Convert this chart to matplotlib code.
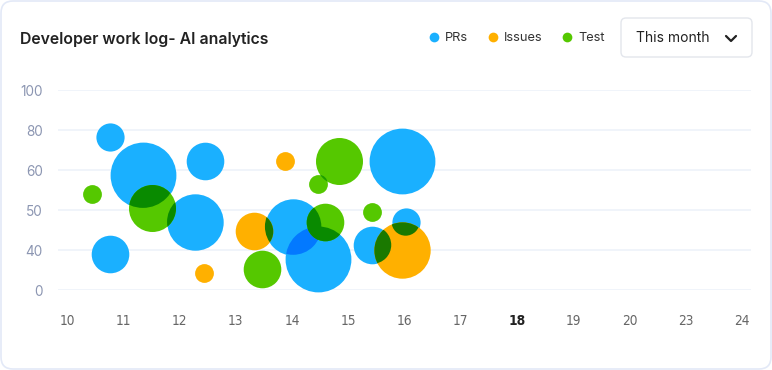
import matplotlib
matplotlib.use("Agg")
import matplotlib.pyplot as plt
import numpy as np
from matplotlib.patches import FancyBboxPatch
from matplotlib.lines import Line2D
from matplotlib.path import Path
from matplotlib import transforms

plt.rcParams['font.family'] = ['Inter', 'DejaVu Sans']

# data
series_names = ['PRs', 'Issues', 'Test']
series_colors = ['#1AB0FF', '#FFB000', '#55C800']

prs_x = [10.76, 11.35, 12.45, 12.28, 10.76, 14.02, 14.47, 15.43, 16.02, 15.95]
prs_y = [76.5, 57.5, 64.5, 34.0, 18.0, 31.7, 15.3, 22.5, 34.2, 64.7]
prs_z = [3, 7, 4, 6, 4, 6, 7, 4, 3, 7]

issues_x = [12.44, 13.32, 13.87, 15.96]
issues_y = [8.5, 29.5, 64.7, 20.0]
issues_z = [2, 4, 2, 6]

test_x = [10.44, 11.51, 13.46, 14.58, 14.47, 14.83, 15.42]
test_y = [48.0, 41.0, 10.7, 34.2, 53.0, 64.7, 38.8]
test_z = [2, 5, 4, 4, 2, 5, 2]

x_ticks = list(range(10, 23))
x_labels = ['10', '11', '12', '13', '14', '15', '16', '17', '18', '19', '20', '23', '24']
y_ticks = [0, 20, 40, 60, 80, 100]
y_labels = ['0', '40', '50', '60', '80', '100']

W, H = 772, 370
fig = plt.figure(figsize=(W / 100, H / 100), dpi=100)
ax = fig.add_axes([58 / W, (H - 290) / H, (751 - 58) / W, 200 / H])
ax.set_xlim(9.84, 22.16)
ax.set_ylim(0, 100)

px_per_z = 4.7  # bubble radius in pixels per unit of z


def radius_pt(z):
    return z * px_per_z * 72 / fig.dpi


def mult(c1, c2):
    a = np.array(matplotlib.colors.to_rgb(c1))
    b = np.array(matplotlib.colors.to_rgb(c2))
    return tuple(a * b)


bubbles = []
for xs, ys, zs, col in [(prs_x, prs_y, prs_z, series_colors[0]),
                        (issues_x, issues_y, issues_z, series_colors[1]),
                        (test_x, test_y, test_z, series_colors[2])]:
    for x, y, z in zip(xs, ys, zs):
        bubbles.append((x, y, z, col))

# draw bubbles in order; overlaps get a multiply-blended colour
for i, (x, y, z, col) in enumerate(bubbles):
    s = (2 * radius_pt(z)) ** 2
    ax.scatter([x], [y], s=s, color=col, linewidths=0, zorder=2 + 2 * i, clip_on=False)
    pi = ax.transData.transform((x, y))
    for j in range(i):
        xj, yj, zj, colj = bubbles[j]
        pj = ax.transData.transform((xj, yj))
        if np.hypot(*(pi - pj)) < (z + zj) * px_per_z:
            sc = ax.scatter([x], [y], s=s, color=mult(col, colj), linewidths=0,
                            zorder=3 + 2 * i)
            clip_t = (transforms.Affine2D().scale(radius_pt(zj) / 72)
                      + fig.dpi_scale_trans
                      + transforms.ScaledTranslation(xj, yj, ax.transData))
            sc.set_clip_path(Path.unit_circle(), clip_t)

for sp in ax.spines.values():
    sp.set_visible(False)
ax.set_yticks(y_ticks)
ax.set_yticklabels(y_labels)
ax.set_xticks(x_ticks)
ax.set_xticklabels(x_labels)
ax.tick_params(axis='both', length=0)
ax.tick_params(axis='y', pad=11, labelsize=9.8, labelcolor='#8C96B2')
ax.tick_params(axis='x', pad=17, labelsize=9.8, labelcolor='#666666')
for lab in ax.get_xticklabels():
    lab.set_family(['DejaVu Sans'])
    lab.set_stretch('condensed')
    if lab.get_text() == '18':
        lab.set_fontweight('bold')
        lab.set_color('#222222')
ax.yaxis.grid(True, color='#EEF2FA', linewidth=1.2)
ax.set_axisbelow(True)

# legend
handles = [Line2D([], [], marker='o', linestyle='', markersize=7, color=c, markeredgewidth=0)
           for c in series_colors]
fig.legend(handles, series_names, loc='center left', bbox_to_anchor=(417 / W, 1 - 38 / H),
           ncol=3, frameon=False, fontsize=9.2, handlelength=0.8, handletextpad=0.5,
           columnspacing=1.5, labelcolor='#333333')

# title
fig.text(20 / W, 1 - 39 / H, 'Developer work log- AI analytics', fontsize=11.4,
         fontweight='semibold', color='#222222', va='center', ha='left')

# dropdown
px = transforms.IdentityTransform()
fig.add_artist(FancyBboxPatch((621, H - 57), 131, 39, boxstyle='round,pad=0,rounding_size=5',
                              transform=px, facecolor='white', edgecolor='#E3E6EC', linewidth=1))
fig.text(636 / W, 1 - 38 / H, 'This month', fontsize=10, color='#222222', va='center', ha='left')
fig.add_artist(Line2D([726, 731, 736], [H - 36, H - 41, H - 36], transform=px,
                      color='#222222', linewidth=1.6, solid_capstyle='round',
                      solid_joinstyle='round'))

# card border
fig.add_artist(FancyBboxPatch((1, 1), W - 2, H - 2, boxstyle='round,pad=0,rounding_size=12',
                              transform=px, facecolor='none', edgecolor='#E3E9F7', linewidth=1.2))

fig.savefig('out.png', dpi=100)
